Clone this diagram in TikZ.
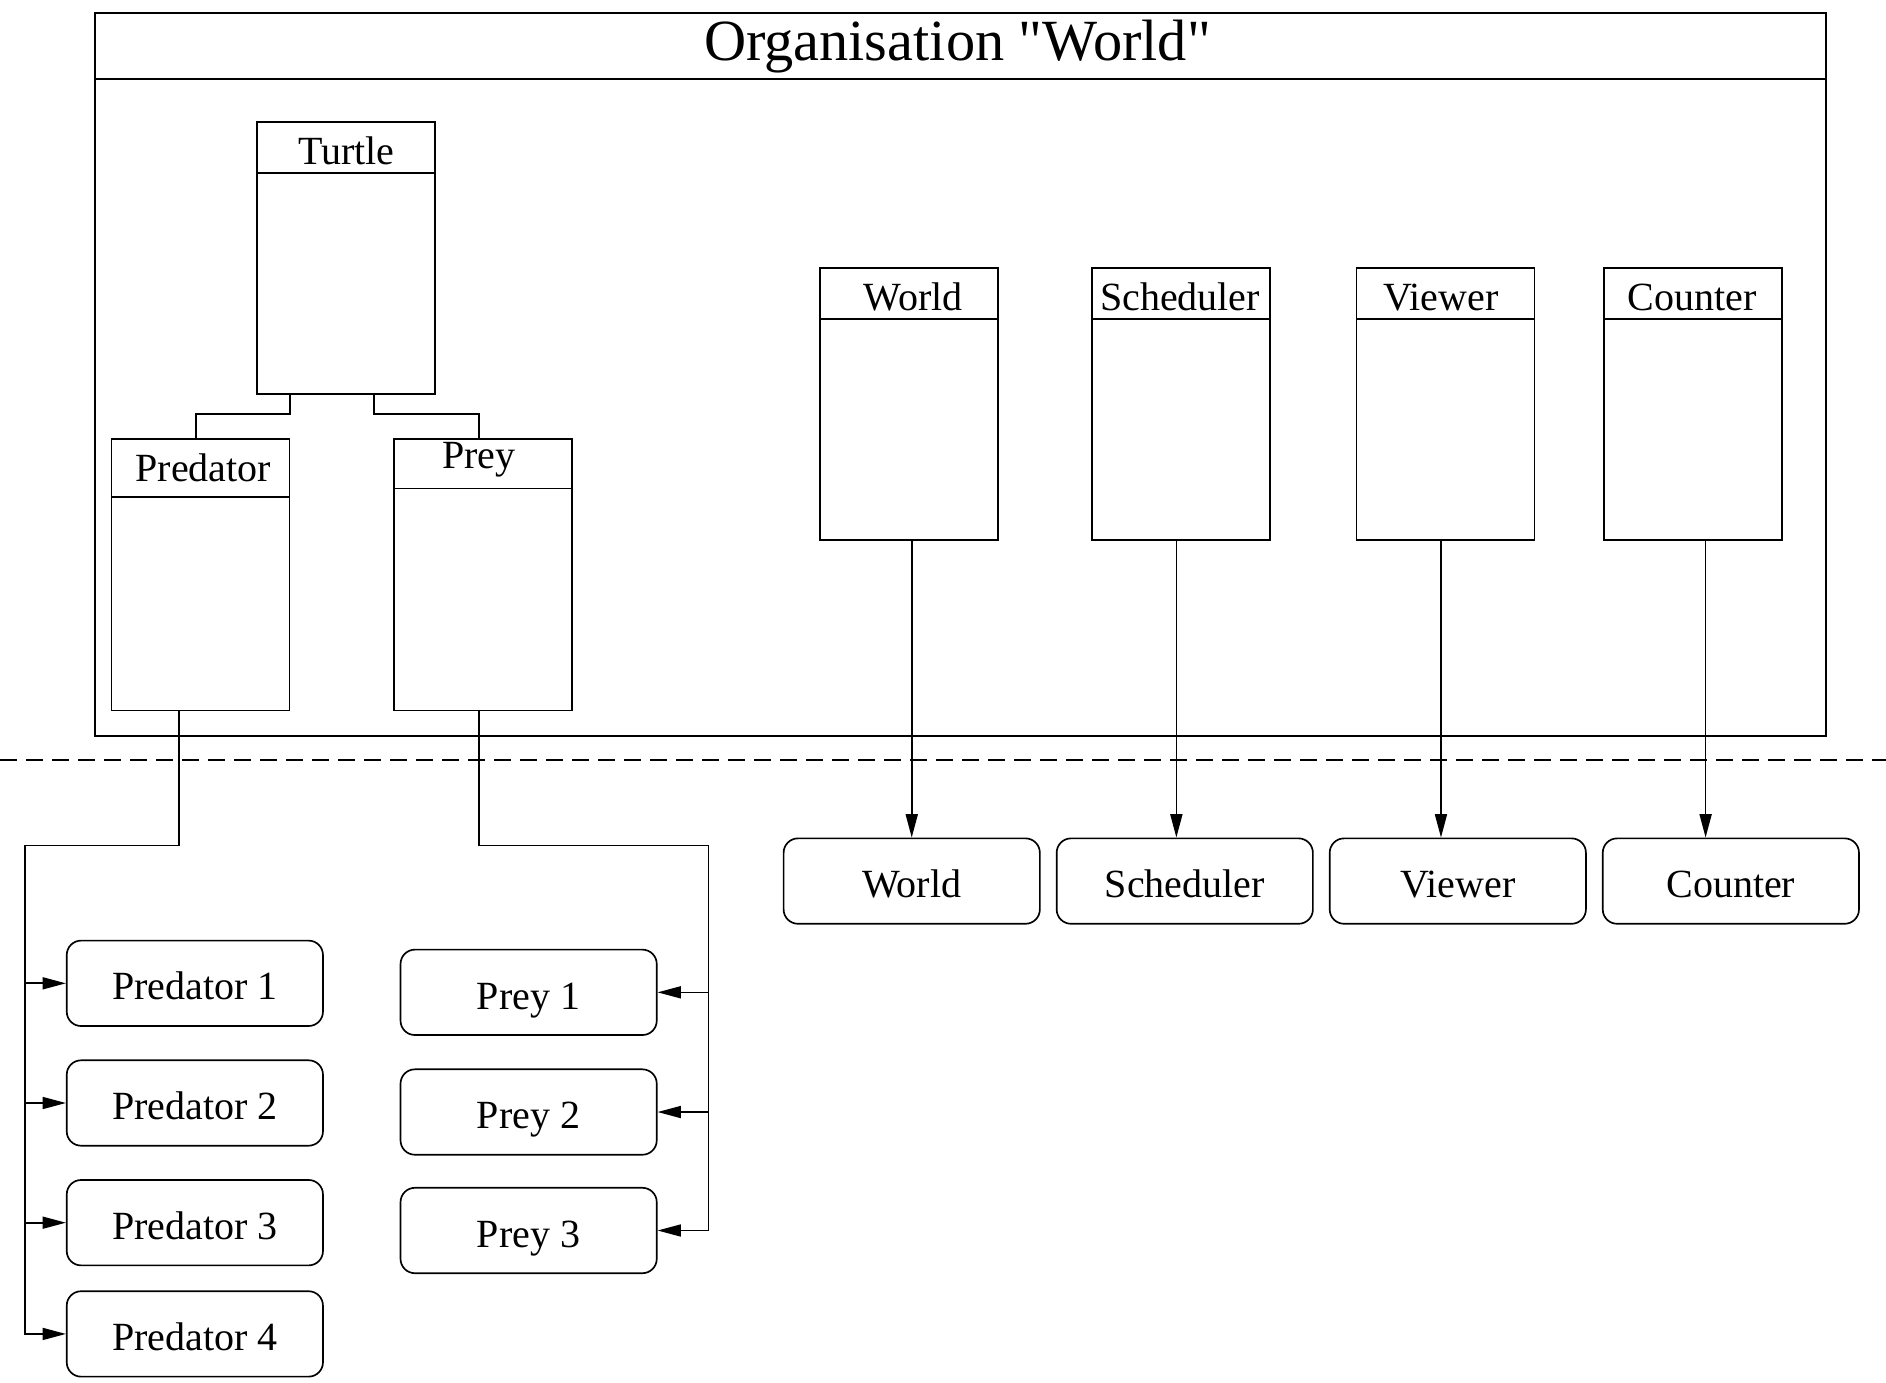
\documentclass[tikz,border=0pt]{standalone}
\usepackage{fontspec}
\setmainfont{Liberation Serif}[Ligatures=TeXOff]
\usetikzlibrary{arrows.meta,calc}
\newdimen\upx \upx=0.36084pt
\begin{document}
\begin{tikzpicture}[x=0.36084pt, y=-0.36084pt, line width=0.5pt,
  classbox/.style={draw, rectangle, minimum width=148*\upx, minimum height=226*\upx, anchor=north west, inner sep=0pt},
  agent/.style={draw, rounded corners=4.3pt, minimum width=213*\upx, minimum height=71*\upx, inner sep=0pt, text height=10pt, text depth=0pt, font=\fontsize{12}{14}\selectfont},
  lbl/.style={font=\fontsize{12}{14}\selectfont, inner sep=0pt},
  arr/.style={-{Triangle[length=7pt,width=3.6pt]}}]
\useasboundingbox (0,0) rectangle (1568,1149);

% organisation frame
\node[draw, line width=0.6pt, anchor=north west, minimum width=1439*\upx, minimum height=601*\upx, inner sep=0pt] (org) at (78,10) {};
\draw[line width=0.6pt] ([yshift=-56*\upx]org.north west) -- ([yshift=-56*\upx]org.north east);
\node[font=\fontsize{17.5}{20}\selectfont, inner sep=0pt] (title) at (796,39) {Organisation "World"};

% class boxes
\node[classbox] (turtle) at (213,101) {};
\node[classbox] (pred) at (92,364) {};
\node[classbox] (prey) at (327,364) {};
\node[classbox] (world) at (681,222) {};
\node[classbox] (sched) at (907,222) {};
\node[classbox] (viewer) at (1127,222) {};
\node[classbox] (counter) at (1333,222) {};

\foreach \n/\h in {turtle/43, pred/49, prey/42, world/43, sched/43, viewer/43, counter/43}
  \draw ([yshift=-\h*\upx]\n.north west) -- ([yshift=-\h*\upx]\n.north east);

\node[lbl] (turtle-l) at (288,125) {Turtle};
\node[lbl] (pred-l) at (169,389) {Predator};
\node[lbl] (prey-l) at (398,382) {Prey};
\node[lbl] (world-l) at (759,247) {World};
\node[lbl] (sched-l) at (981,247) {Scheduler};
\node[lbl] (viewer-l) at (1198,247) {Viewer};
\node[lbl] (counter-l) at (1407,247) {Counter};

% inheritance
\draw ($(turtle.south west)+(28,0)$) -- ++(0,16) -| ($(pred.north west)+(71,0)$);
\draw ($(turtle.south west)+(98,0)$) -- ++(0,16) -| ($(prey.north west)+(71,0)$);

% separator
\coordinate (sepL) at (0,632);
\coordinate (sepR) at (1568,632);
\draw[dash pattern=on 5pt off 2.8pt] (sepL) -- (sepR);

% agents
\node[agent] (wA) at (758,732.5) {World};
\node[agent] (sA) at (985,732.5) {Scheduler};
\node[agent] (vA) at (1212,732.5) {Viewer};
\node[agent] (cA) at (1439,732.5) {Counter};

\node[agent] (pa1) at (162,817.5) {Predator 1};
\node[agent] (pa2) at (162,917) {Predator 2};
\node[agent] (pa3) at (162,1016.5) {Predator 3};
\node[agent] (pa4) at (162,1109) {Predator 4};

\node[agent] (ya1) at (439.5,825) {Prey 1};
\node[agent] (ya2) at (439.5,924.5) {Prey 2};
\node[agent] (ya3) at (439.5,1023) {Prey 3};

% role -> agent arrows
\coordinate (wl) at ($(world.south west)+(77,0)$);
\coordinate (sl) at ($(sched.south west)+(71,0)$);
\coordinate (vl) at ($(viewer.south west)+(71,0)$);
\coordinate (cl) at ($(counter.south west)+(85,0)$);
\draw[arr] (wl) -- (wl |- wA.north);
\draw[arr] (sl) -- (sl |- sA.north);
\draw[arr] (vl) -- (vl |- vA.north);
\draw[arr] (cl) -- (cl |- cA.north);

% predator bus
\coordinate (pbus) at (21,703);
\draw[arr] ($(pred.south west)+(57,0)$) |- (pbus) |- (pa4.west);
\foreach \t in {pa1,pa2,pa3}
  \draw[arr] (pbus |- \t.west) -- (\t.west);

% prey bus
\coordinate (ybus) at (589,703);
\draw[arr] ($(prey.south west)+(71,0)$) |- (ybus) |- (ya3.east);
\foreach \t in {ya1,ya2}
  \draw[arr] (ybus |- \t.east) -- (\t.east);
\end{tikzpicture}
\end{document}
